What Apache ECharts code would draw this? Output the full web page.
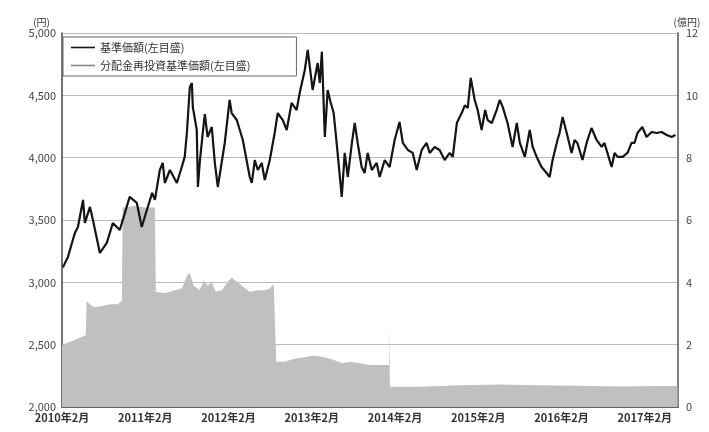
<!DOCTYPE html>
<html><head><meta charset="utf-8">
<script src="https://cdn.jsdelivr.net/npm/echarts@6/dist/echarts.min.js"></script>
<style>html,body{margin:0;padding:0;background:#fff}#c{width:709px;height:432px}</style>
</head><body><div id="c"></div>
<script>
// 基準価額 (円)
const navDates = ['2010-02-05','2010-02-27','2010-03-27','2010-04-10','2010-05-02','2010-05-10','2010-06-02','2010-06-15','2010-07-15','2010-08-15','2010-09-11','2010-10-11','2010-11-24','2010-12-25','2011-01-16','2011-02-08','2011-03-01','2011-03-13','2011-04-04','2011-04-17','2011-04-26','2011-05-18','2011-06-18','2011-07-09','2011-07-22','2011-08-01','2011-08-14','2011-08-23','2011-08-27','2011-09-14','2011-09-19','2011-09-27','2011-10-10','2011-10-19','2011-10-31','2011-11-19','2011-12-02','2011-12-15','2012-01-15','2012-02-06','2012-02-15','2012-03-07','2012-04-03','2012-05-03','2012-05-12','2012-05-25','2012-06-08','2012-06-25','2012-07-08','2012-07-30','2012-08-21','2012-09-04','2012-09-26','2012-10-13','2012-11-04','2012-11-26','2012-12-09','2013-01-01','2013-01-14','2013-02-05','2013-02-27','2013-03-06','2013-03-15','2013-03-28','2013-04-10','2013-04-22','2013-05-06','2013-05-19','2013-06-11','2013-06-24','2013-07-07','2013-07-25','2013-08-07','2013-08-20','2013-09-07','2013-09-20','2013-10-03','2013-10-21','2013-11-12','2013-11-25','2013-12-17','2014-01-08','2014-01-30','2014-02-21','2014-03-05','2014-03-27','2014-04-18','2014-05-05','2014-05-27','2014-06-18','2014-07-01','2014-07-23','2014-08-14','2014-09-06','2014-09-28','2014-10-11','2014-10-29','2014-11-11','2014-11-20','2014-12-03','2014-12-16','2014-12-29','2015-01-16','2015-01-29','2015-02-16','2015-03-01','2015-03-12','2015-03-30','2015-04-21','2015-05-04','2015-05-17','2015-06-08','2015-06-30','2015-07-18','2015-08-01','2015-08-23','2015-09-14','2015-09-27','2015-10-14','2015-11-05','2015-11-27','2015-12-10','2015-12-23','2016-01-14','2016-01-23','2016-02-06','2016-02-24','2016-03-15','2016-03-28','2016-04-10','2016-05-02','2016-05-20','2016-06-11','2016-07-03','2016-07-25','2016-08-07','2016-08-20','2016-09-08','2016-09-21','2016-10-04','2016-10-26','2016-11-17','2016-12-04','2016-12-17','2016-12-30','2017-01-21','2017-02-09','2017-03-01','2017-03-23','2017-04-14','2017-05-06','2017-05-28','2017-06-14'];
const nav = [3120,3204,3396,3444,3661,3476,3605,3500,3236,3316,3476,3420,3685,3637,3444,3580,3717,3661,3901,3958,3797,3901,3797,3925,4006,4198,4567,4599,4407,4222,3765,3960,4200,4350,4166,4246,3958,3765,4118,4463,4358,4302,4142,3845,3797,3981,3901,3958,3821,3981,4198,4358,4302,4222,4439,4382,4519,4703,4864,4543,4759,4600,4850,4166,4543,4450,4358,4118,3685,4038,3845,4118,4278,4118,3925,3877,4038,3901,3958,3845,3981,3925,4142,4286,4118,4062,4038,3901,4062,4118,4038,4086,4062,3981,4038,4006,4278,4326,4358,4420,4400,4640,4463,4382,4222,4382,4302,4278,4382,4463,4407,4278,4086,4278,4118,4006,4222,4086,4006,3925,3877,3845,3981,4142,4198,4326,4198,4038,4142,4118,3981,4118,4238,4142,4086,4118,4038,3925,4038,4006,4006,4038,4118,4118,4198,4246,4166,4206,4198,4206,4182,4166,4182];
// 純資産総額 (億円)
const aumDates = ['2010-02-01','2010-03-10','2010-04-10','2010-05-14','2010-05-18','2010-06-01','2010-06-20','2010-07-28','2010-08-30','2010-10-02','2010-10-20','2010-10-24','2010-12-15','2011-02-01','2011-03-13','2011-03-17','2011-04-26','2011-06-08','2011-07-09','2011-08-01','2011-08-14','2011-08-31','2011-09-27','2011-10-14','2011-10-31','2011-11-19','2011-12-06','2012-01-02','2012-01-27','2012-02-15','2012-03-10','2012-04-06','2012-05-03','2012-06-08','2012-07-08','2012-07-30','2012-08-17','2012-08-25','2012-08-28','2012-10-04','2012-11-16','2013-01-01','2013-02-12','2013-03-28','2013-05-10','2013-06-14','2013-07-16','2013-08-28','2013-10-11','2013-11-25','2014-01-05','2014-01-07','2014-01-09','2014-05-23','2014-11-11','2015-05-04','2015-10-26','2016-04-14','2016-10-09','2017-04-06','2017-06-23'];
const aum = [2.0,2.1,2.2,2.3,3.4,3.3,3.2,3.25,3.3,3.3,3.4,6.4,6.45,6.4,6.4,3.7,3.65,3.75,3.8,4.2,4.3,3.9,3.75,4.05,3.9,4.0,3.7,3.75,4.0,4.15,4.0,3.85,3.7,3.75,3.75,3.8,3.95,4.0,1.45,1.45,1.55,1.6,1.65,1.6,1.5,1.4,1.45,1.4,1.35,1.35,1.35,2.55,0.65,0.65,0.7,0.72,0.7,0.68,0.66,0.67,0.67];
const leftTicks = [2000,2500,3000,3500,4000,4500,5000];
const rightTicks = [0,2,4,6,8,10,12];
const names = ['基準価額(左目盛)','分配金再投資基準価額(左目盛)','純資産総額(右目盛)'];

function monthIdx(s){const p=s.split('-').map(Number);return (p[0]-2010)*12+(p[1]-2)+(p[2]-1)/30.4;}
const navData = navDates.map((d,i)=>[monthIdx(d),nav[i]]);
const aumData = aumDates.map((d,i)=>[monthIdx(d),aum[i]]);
const F = '"Noto Sans CJK JP","Noto Sans",sans-serif';

const chart = echarts.init(document.getElementById('c'));
chart.setOption({
  animation:false,
  textStyle:{fontFamily:F},
  grid:{left:62,right:31,top:33,bottom:25},
  legend:{
    data:[{name:names[0],icon:'rect'},{name:names[1],icon:'rect'}], orient:'vertical', left:63, top:37,
    backgroundColor:'#fff', borderColor:'#666', borderWidth:1,
    padding:[5,46,5,8], itemGap:7, itemWidth:24, itemHeight:1.6,
    textStyle:{fontFamily:F,fontSize:11,color:'#333'}
  },
  xAxis:{
    type:'value', min:0, max:88.8, interval:12,
    axisLine:{show:true,lineStyle:{color:'#444',width:1.5}},
    axisTick:{show:true,inside:true,length:4,lineStyle:{color:'#999'}},
    splitLine:{show:false},
    axisLabel:{fontFamily:F,fontSize:11,color:'#333',fontWeight:'bold',margin:5,showMaxLabel:false,
      formatter:v=>{const y=v/12; return Math.abs(y-Math.round(y))<1e-6 ? (2010+Math.round(y))+'年2月' : '';}}
  },
  yAxis:[{
    type:'value', min:leftTicks[0], max:leftTicks[leftTicks.length-1], interval:500,
    name:'(円)', nameGap:6, nameTextStyle:{fontFamily:F,fontSize:10,color:'#333',align:'right',padding:[0,12,0,0]},
    axisLine:{show:true,lineStyle:{color:'#444',width:1.5}},
    axisTick:{show:false},
    splitLine:{show:true,lineStyle:{color:'#bbb',width:1.2}},
    axisLabel:{fontFamily:F,fontSize:11,color:'#444',margin:6,formatter:v=>v.toLocaleString('en-US')}
  },{
    type:'value', min:rightTicks[0], max:rightTicks[rightTicks.length-1], interval:2,
    name:'(億円)', nameGap:6, nameTextStyle:{fontFamily:F,fontSize:10,color:'#333',align:'center',padding:[0,0,0,18]},
    axisLine:{show:true,lineStyle:{color:'#555',width:1.5}},
    axisTick:{show:false},
    splitLine:{show:false},
    axisLabel:{fontFamily:F,fontSize:11,color:'#444',margin:8}
  }],
  series:[{
    name:names[2], type:'line', yAxisIndex:1, data:aumData, symbol:'none',
    lineStyle:{width:0}, itemStyle:{color:'#c0c0c0'}, areaStyle:{color:'#c0c0c0',opacity:1}, z:1
  },{
    name:names[1], type:'line', yAxisIndex:0, data:navData, symbol:'none',
    lineStyle:{width:1,color:'#888'}, itemStyle:{color:'#888'}, z:2
  },{
    name:names[0], type:'line', yAxisIndex:0, data:navData, symbol:'none',
    lineStyle:{width:2.2,color:'#151515'}, itemStyle:{color:'#151515'}, z:3
  }],
  graphic:[{type:'text',left:232,top:375,style:{text:names[2],font:'bold 12px "Noto Sans CJK JP"',fill:'#333'}}]
});
</script></body></html>
